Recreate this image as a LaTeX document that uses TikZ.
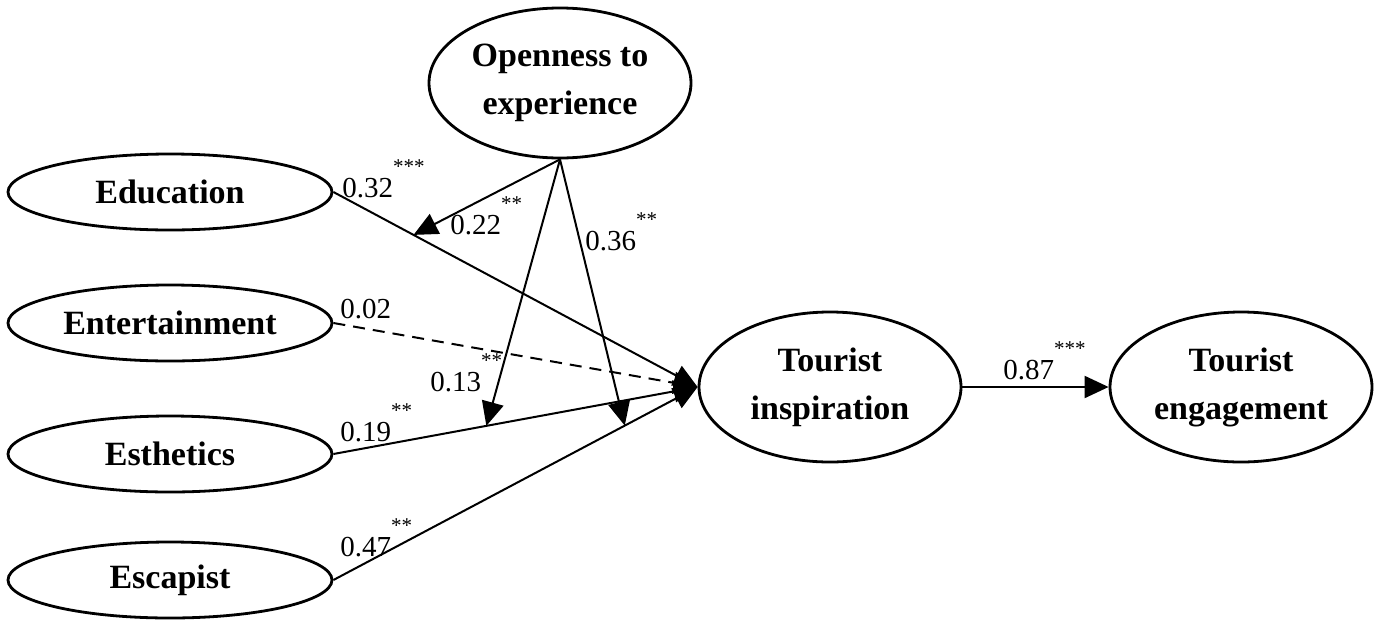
\documentclass[tikz,border=0pt]{standalone}
\usepackage{fontspec}
\setmainfont{Liberation Serif}
\usetikzlibrary{shapes.geometric,arrows.meta,calc}

\newcommand{\sig}[1]{\raisebox{12pt}{\fontsize{10.5}{10.5}\selectfont #1}}

\begin{document}
\begin{tikzpicture}[
        x=0.5pt, y=-0.5pt,
        construct/.style={
            draw,
            ellipse,
            line width=1.4pt,
            minimum width=162pt,
            minimum height=38pt,
            inner sep=0pt,
            align=center,
            font=\fontsize{17}{24}\selectfont\bfseries
        },
        bigconstruct/.style={
            construct,
            minimum width=131pt,
            minimum height=75pt
        },
        path/.style={
            line width=1pt,
            -{Triangle[length=12pt,width=11pt]}
        },
        coef/.style={
            anchor=base west,
            inner sep=0pt,
            font=\fontsize{14.5}{17}\selectfont
        }
    ]
        \useasboundingbox (0,0) rectangle (1380,627);

        % Moderator
        \node[bigconstruct] (open) at (560,83) {Openness to\\experience};

        % Experience dimensions
        \node[construct] (edu) at (170,192) {Education};
        \node[construct] (ent) at (170,323) {Entertainment};
        \node[construct] (est) at (170,454) {Esthetics};
        \node[construct] (esc) at (170,580) {Escapist};

        % Outcomes
        \node[bigconstruct] (insp) at (830,387) {Tourist\\inspiration};
        \node[bigconstruct] (eng) at (1241,387) {Tourist\\engagement};

        % Direct paths
        \draw[path] (edu.east) -- (insp.west);
        \draw[path, dash pattern=on 6pt off 4pt] (ent.east) -- (insp.west);
        \draw[path] (est.east) -- (insp.west);
        \draw[path] (esc.east) -- (insp.west);
        \draw[path] (insp.east) -- (eng.west);

        % Moderating paths (ending on the direct paths)
        \coordinate (mEdu) at ($(edu.east)!0.22!(insp.west)$);
        \coordinate (mEst) at ($(est.east)!0.42!(insp.west)$);
        \coordinate (mEsc) at ($(esc.east)!0.80!(insp.west)$);
        \draw[path] (open.south) -- (mEdu);
        \draw[path] (open.south) -- (mEst);
        \draw[path] (open.south) -- (mEsc);

        % Coefficients
        \node[coef] (cEdu) at (342,197) {0.32\sig{***}};
        \node[coef] (cOpEdu) at (450,234) {0.22\sig{**}};
        \node[coef] (cOpEsc) at (585,250) {0.36\sig{**}};
        \node[coef] (cEnt) at (340,318) {0.02};
        \node[coef] (cOpEst) at (430,391) {0.13\sig{**}};
        \node[coef] (cEst) at (340,441) {0.19\sig{**}};
        \node[coef] (cEsc) at (340,556) {0.47\sig{**}};
        \node[coef] (cInsp) at (1003,379) {0.87\sig{***}};

    \end{tikzpicture}
\end{document}
